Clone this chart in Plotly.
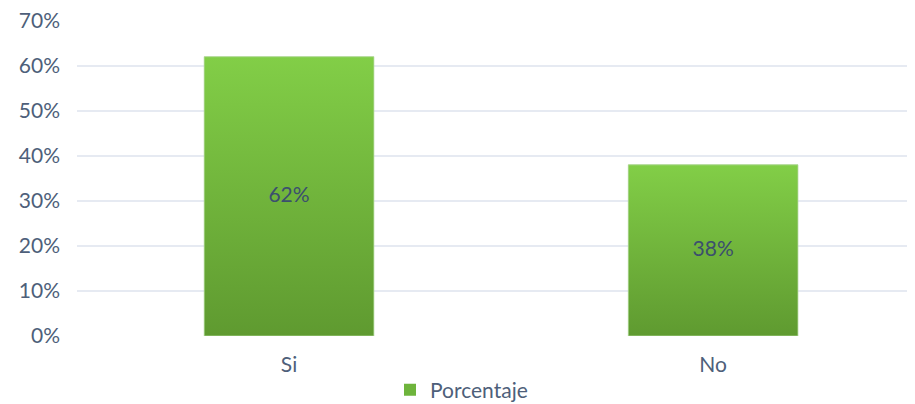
import plotly.graph_objects as go

categories = ["Si", "No"]
values = [0.62, 0.38]
labels = ["62%", "38%"]
series_name = "Porcentaje"
tick_vals = [0, 0.1, 0.2, 0.3, 0.4, 0.5, 0.6, 0.7]
tick_text = ["0%", "10%", "20%", "30%", "40%", "50%", "60%", "70%"]

FONT = "Lato"
BAR_W = 0.4
xs = list(range(len(categories)))

fig = go.Figure()
# base bar (legend entry)
fig.add_trace(go.Bar(
    x=xs, y=values, name=series_name,
    marker=dict(color="#6eb43c", line=dict(width=0)),
    width=BAR_W, showlegend=True, hoverinfo="skip",
))
# gradient overlay for each bar
for xi, v in zip(xs, values):
    fig.add_trace(go.Scatter(
        x=[xi - BAR_W / 2, xi - BAR_W / 2, xi + BAR_W / 2, xi + BAR_W / 2, xi - BAR_W / 2],
        y=[0, v, v, 0, 0], mode="lines", fill="toself",
        line=dict(color="#b3d89a", width=0.8),
        fillgradient=dict(type="vertical", colorscale=[[0, "#5f9a30"], [1, "#82ce47"]],
                          start=0, stop=v),
        showlegend=False, hoverinfo="skip",
    ))
# value labels
fig.add_trace(go.Scatter(
    x=xs, y=[v / 2 for v in values], mode="text", text=labels,
    textfont=dict(color="#3b4f6e", size=21, family=FONT),
    showlegend=False, hoverinfo="skip",
))

fig.update_layout(
    width=907, height=396,
    margin=dict(l=69, r=0, t=12, b=68),
    plot_bgcolor="white", paper_bgcolor="white",
    font=dict(family=FONT, color="#4e5f7a", size=21),
    showlegend=True,
    legend=dict(orientation="h", x=0.5, xanchor="center", xref="container",
                y=0.035, yanchor="middle", yref="container",
                font=dict(size=21, color="#4e5f7a")),
    xaxis=dict(range=[-0.5, 1.476], tickvals=xs, ticktext=categories,
               showgrid=False, zeroline=False, showline=False, ticks="",
               ticklabelstandoff=14, automargin=False),
    yaxis=dict(range=[0, 0.7015], tickvals=tick_vals, ticktext=tick_text,
               showgrid=True, gridcolor="#e6eaf2", gridwidth=1.5, zeroline=False,
               ticklabelstandoff=16, automargin=False, ticklabeloverflow="allow"),
)
fig.write_html("out.html")
